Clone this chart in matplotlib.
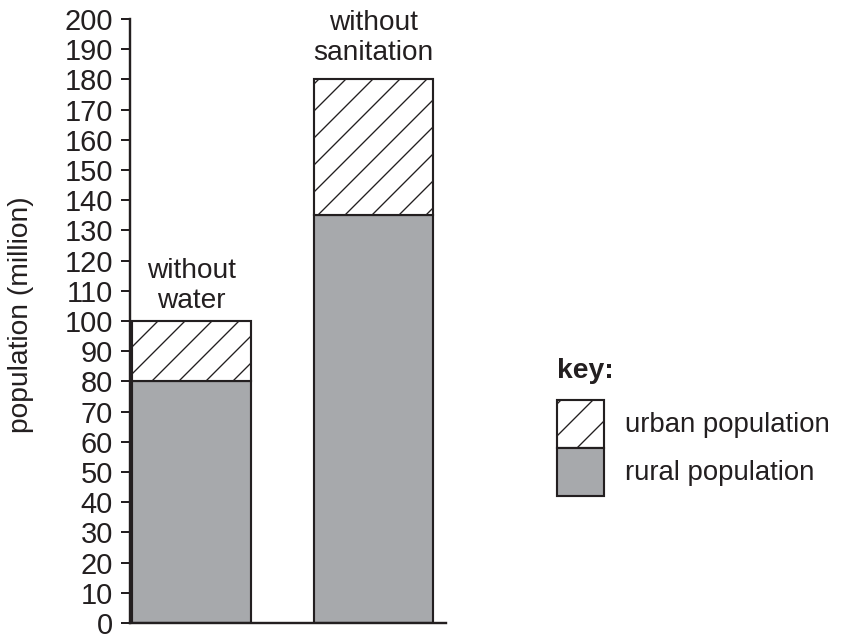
import matplotlib
matplotlib.use("Agg")
import matplotlib.pyplot as plt
from matplotlib.collections import LineCollection
from matplotlib.transforms import IdentityTransform

categories = ["without\nwater", "without\nsanitation"]
rural = [80, 135]
urban = [20, 45]
yticks = list(range(0, 201, 10))

DPI = 192
plt.rcParams['font.family'] = ['Liberation Sans', 'DejaVu Sans']
txt = '#231f20'
gray = '#a7a9ac'
HATCH_STEP = 27  # px between hatch lines
label_offsets_pt = [2.8, 5.0]

fig = plt.figure(figsize=(847 / DPI, 641 / DPI), dpi=DPI)
ax = fig.add_axes([130 / 847, 18 / 641, 316 / 847, 604 / 641])

x = list(range(len(categories)))
w = 0.655
b1 = ax.bar(x, rural, width=w, color=gray, edgecolor=txt, linewidth=0.8,
            label='rural population')
b2 = ax.bar(x, urban, width=w, bottom=rural, color='white', edgecolor=txt,
            linewidth=0.8, label='urban population')

for xi, r, u, lab, off in zip(x, rural, urban, categories, label_offsets_pt):
    ax.annotate(lab, xy=(xi, r + u), xytext=(0, off), textcoords='offset points',
                ha='center', va='bottom', fontsize=10.5, color=txt,
                linespacing=1.2)

ax.set_xlim(-w / 2 - 0.01, 1.40)
ax.set_ylim(0, 200)
ax.set_yticks(yticks)
ax.set_xticks([])
for s in ['top', 'right']:
    ax.spines[s].set_visible(False)
for s in ['left', 'bottom']:
    ax.spines[s].set_linewidth(0.9)
    ax.spines[s].set_color(txt)
ax.tick_params(axis='y', length=3.4, width=0.75, pad=3, labelsize=10.9,
               colors=txt)
ax.set_ylabel('population (million)', fontsize=10.6, color=txt, va='center')
ax.yaxis.set_label_coords(-0.345, 0.51)

fig.text(557 / 847, 1 - 378 / 641, 'key:', fontsize=10.6, fontweight='bold',
         color=txt, ha='left', va='baseline')
leg = fig.legend(handles=[b2, b1], labels=['urban population', 'rural population'],
                 loc='upper left', bbox_to_anchor=(557 / 847, 1 - 400 / 641),
                 frameon=False, fontsize=10.3,
                 handlelength=1.71, handleheight=2.3,
                 labelspacing=0, handletextpad=0.78, borderpad=0,
                 borderaxespad=0)
for t in leg.get_texts():
    t.set_color(txt)

fig.canvas.draw()
renderer = fig.canvas.get_renderer()


def hatch_segments(bb, step):
    x0, y0, x1, y1 = bb.x0, bb.y0, bb.x1, bb.y1
    segs = []
    k = x0 - y1
    k -= k % step
    while k < x1 - y0:
        xs = max(x0, y0 + k)
        xe = min(x1, y1 + k)
        if xe > xs:
            segs.append([(xs, xs - k), (xe, xe - k)])
        k += step
    return segs


segs = []
for p in b2.patches:
    segs += hatch_segments(p.get_window_extent(renderer), HATCH_STEP)
segs += hatch_segments(leg.legend_handles[0].get_window_extent(renderer), 32)
lc = LineCollection(segs, colors=txt, linewidths=0.5, transform=IdentityTransform(),
                    zorder=10)
fig.add_artist(lc)

fig.savefig('out.png', dpi=DPI)
